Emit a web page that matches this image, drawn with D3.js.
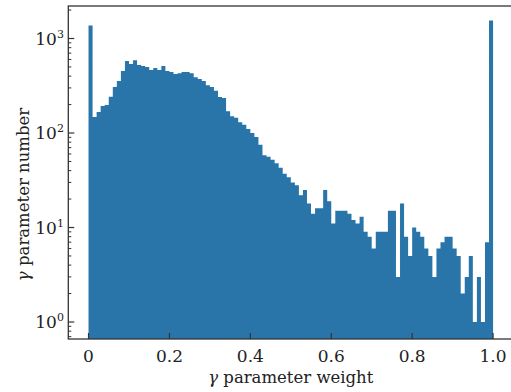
<!DOCTYPE html>
<html>
<head>
<meta charset="utf-8">
<script src="https://cdn.jsdelivr.net/npm/d3@7"></script>
<style>
  body { margin: 0; background: #fff; }
  text { font-family: "DejaVu Serif", serif; fill: #222; }
</style>
</head>
<body>
<div id="chart"></div>
<script>
// histogram counts, 100 bins of width 0.01 on [0, 1]
var binWidth = 0.01;
var counts = [
  1370, 148, 167, 193, 198, 242, 307, 355, 453, 578,
  537, 590, 525, 512, 500, 465, 487, 465, 512, 453,
  442, 420, 430, 442, 442, 430, 390, 372, 355, 320,
  307, 280, 240, 235, 170, 150, 145, 130, 122, 110,
  100, 91, 75, 58, 56, 52, 48, 43, 37, 34,
  30, 28, 22, 25, 18, 14, 16, 16, 25, 19,
  11, 15, 15, 15, 14, 12, 11, 13, 9, 8,
  6, 9, 9, 9, 15, 15, 3, 18, 8, 5,
  10, 9, 8, 6, 5, 3, 6, 7, 8, 8,
  6, 5, 2, 3, 5, 1, 3, 1, 7, 1550
];
var xTicks = [0, 0.2, 0.4, 0.6, 0.8, 1.0];
var yTicks = [1, 10, 100, 1000];
var xLabel = "parameter weight";
var yLabel = "parameter number";

var width = 511;
var height = 392;
var margin = { top: 6, left: 68.3, bottom: 53 };
var plotW = 445;
var plotH = height - margin.top - margin.bottom;

var barColor = "#2975aa";
var axisColor = "#333";

var svg = d3.select("#chart").append("svg")
  .attr("width", width)
  .attr("height", height);

var g = svg.append("g")
  .attr("transform", `translate(${margin.left}, ${margin.top})`);

/* Scales */
var x = d3.scaleLinear().domain([-0.05, 1.05]).range([0, plotW]);
var y = d3.scaleLog().domain([0.661, 2208]).range([plotH, 0]);

/* Bars drawn as one stepped area so adjacent bins show no seams */
var bins = counts.map((c, i) => ({ x0: i * binWidth, n: c }));
bins.push({ x0: counts.length * binWidth, n: counts[counts.length - 1] });

var area = d3.area()
  .x((d) => x(d.x0))
  .y0(plotH)
  .y1((d) => y(d.n))
  .curve(d3.curveStepAfter);

g.append("path")
  .datum(bins)
  .attr("d", area)
  .attr("fill", barColor);

/* Frame */
g.append("rect")
  .attr("width", plotW)
  .attr("height", plotH)
  .attr("fill", "none")
  .attr("stroke", axisColor)
  .attr("stroke-width", 1.3);

/* X axis, ticks pointing inward */
var xAxis = g.append("g").attr("transform", `translate(0, ${plotH})`);
xAxis.selectAll("line")
  .data(xTicks)
  .enter()
  .append("line")
  .attr("x1", (d) => x(d)).attr("x2", (d) => x(d))
  .attr("y1", 0).attr("y2", -6)
  .attr("stroke", axisColor).attr("stroke-width", 1.2);
xAxis.selectAll("text")
  .data(xTicks)
  .enter()
  .append("text")
  .attr("x", (d) => x(d))
  .attr("y", 23)
  .attr("text-anchor", "middle")
  .style("font-size", "17px")
  .text((d) => d3.format(".1f")(d).replace(/^0\.0$/, "0"));

/* Y axis, log ticks */
var minor = [];
[0.1, 1, 10, 100, 1000].forEach(function (p) {
  for (var k = 2; k <= 9; k++) {
    var v = k * p;
    if (v >= y.domain()[0] && v <= y.domain()[1]) minor.push(v);
  }
});
var yAxis = g.append("g");
yAxis.selectAll(".minor")
  .data(minor)
  .enter()
  .append("line")
  .attr("class", "minor")
  .attr("x1", 0).attr("x2", 3)
  .attr("y1", (d) => y(d)).attr("y2", (d) => y(d))
  .attr("stroke", axisColor).attr("stroke-width", 1);
yAxis.selectAll(".major")
  .data(yTicks)
  .enter()
  .append("line")
  .attr("class", "major")
  .attr("x1", 0).attr("x2", 6)
  .attr("y1", (d) => y(d)).attr("y2", (d) => y(d))
  .attr("stroke", axisColor).attr("stroke-width", 1.2);

var yl = yAxis.selectAll(".ylab")
  .data(yTicks)
  .enter()
  .append("text")
  .attr("class", "ylab")
  .attr("x", -33)
  .attr("y", (d) => y(d) + 6)
  .style("font-size", "17px");
yl.append("tspan").text("10");
yl.append("tspan")
  .attr("dy", -7)
  .style("font-size", "11px")
  .text((d) => Math.round(Math.log10(d)));

/* Axis titles */
var xt = svg.append("text")
  .attr("x", margin.left + x(0.5))
  .attr("y", 383)
  .attr("text-anchor", "middle")
  .style("font-size", "16.5px");
xt.append("tspan").style("font-style", "italic").text("γ");
xt.append("tspan").text(" " + xLabel);

var yt = svg.append("text")
  .attr("transform", `translate(29, ${margin.top + plotH / 2 + 22}) rotate(-90)`)
  .attr("text-anchor", "middle")
  .style("font-size", "16.5px");
yt.append("tspan").style("font-style", "italic").text("γ");
yt.append("tspan").text(" " + yLabel);
</script>
</body>
</html>
